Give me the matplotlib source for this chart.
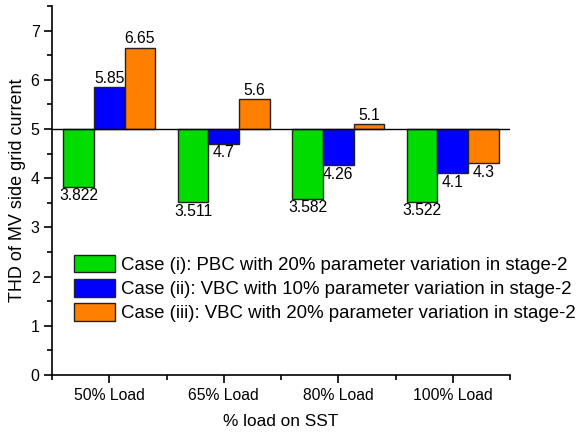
import numpy as np
import matplotlib
matplotlib.use('Agg')
import matplotlib.pyplot as plt
from matplotlib.ticker import MultipleLocator, FixedLocator

plt.rcParams['font.family'] = ['Liberation Sans', 'DejaVu Sans']

loads = ['50% Load', '65% Load', '80% Load', '100% Load']
case1 = [3.822, 3.511, 3.582, 3.522]
case2 = [5.85, 4.7, 4.26, 4.1]
case3 = [6.65, 5.6, 5.1, 4.3]
case_labels = ['Case (i): PBC with 20% parameter variation in stage-2',
               'Case (ii): VBC with 10% parameter variation in stage-2',
               'Case (iii): VBC with 20% parameter variation in stage-2']
colors = ['#00DC00', '#0000FF', '#FF8000']
base = 5

fig = plt.figure(figsize=(5.86, 4.34), dpi=100)
ax = fig.add_axes([52/586, 59/434, 458/586, 369/434])

x = np.arange(1, len(loads) + 1)
w = 0.8 / 3
for i, vals in enumerate([case1, case2, case3]):
    vals = np.array(vals)
    pos = x + (i - 1) * w
    ax.bar(pos, vals - base, width=w, bottom=base, color=colors[i],
           edgecolor='#222222', linewidth=1, label=case_labels[i], zorder=2)
    for px, v in zip(pos, vals):
        txt = ('%g' % v)
        if v >= base:
            ax.annotate(txt, (px, v), xytext=(0, 1), textcoords='offset points',
                        ha='center', va='bottom', fontsize=11.3)
        else:
            ax.annotate(txt, (px, v), xytext=(0, -1), textcoords='offset points',
                        ha='center', va='top', fontsize=11.3)

ax.axhline(base, color='black', linewidth=1, zorder=3)

ax.set_xlim(0.5, 4.5)
ax.set_ylim(0, 7.5)
ax.set_xticks(x)
ax.set_xticklabels(loads, fontsize=11.3)
ax.xaxis.set_minor_locator(FixedLocator([0.5, 1.5, 2.5, 3.5, 4.5]))
ax.yaxis.set_major_locator(MultipleLocator(1))
ax.yaxis.set_minor_locator(MultipleLocator(0.5))
ax.tick_params(axis='y', labelsize=11.5)
ax.tick_params(which='major', direction='out', length=6, width=1.2, pad=3)
ax.tick_params(which='minor', direction='out', length=3.5, width=1.2)
ax.spines['top'].set_visible(False)
ax.spines['right'].set_visible(False)
ax.spines['left'].set_linewidth(1.2)
ax.spines['bottom'].set_linewidth(1.2)

ax.set_xlabel('% load on SST', fontsize=12.4, labelpad=8)
ax.set_ylabel('THD of MV side grid current', fontsize=13, labelpad=3)

ax.legend(loc='upper left', bbox_to_anchor=(0.048, 0.325), frameon=False,
          fontsize=13.4, handlelength=2.2, handleheight=1.05, labelspacing=0.28,
          handletextpad=0.33, borderpad=0, borderaxespad=0)

plt.savefig('out.png', dpi=100)
